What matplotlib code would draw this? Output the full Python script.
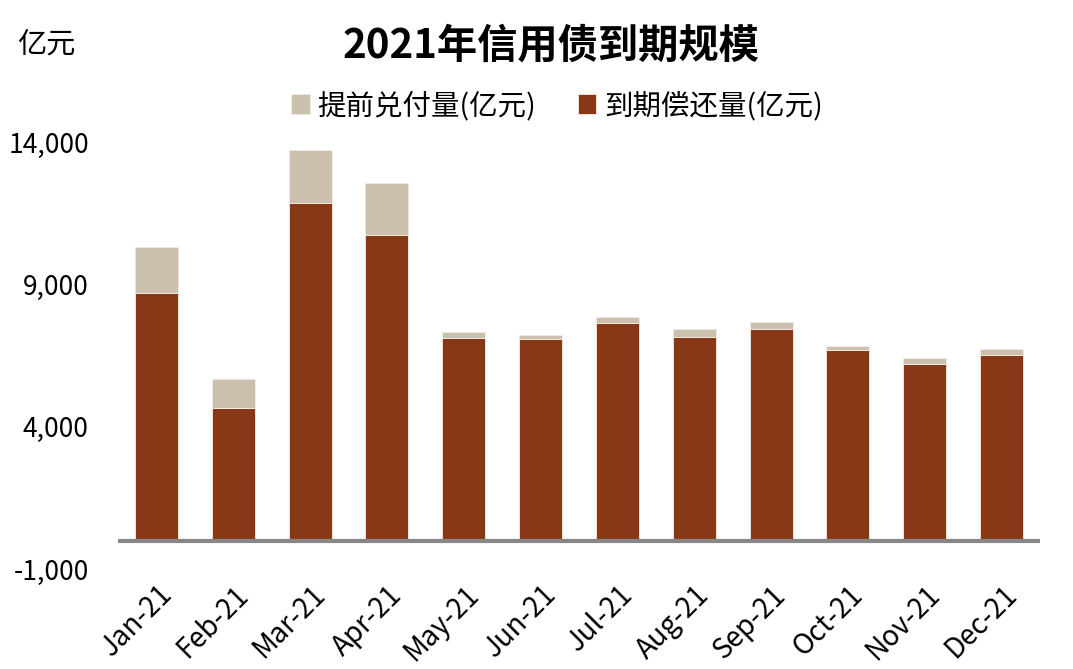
import matplotlib
matplotlib.use("Agg")
import matplotlib.pyplot as plt
import numpy as np

plt.rcParams['font.family'] = ['Noto Sans CJK SC', 'DejaVu Sans']

months = ["Jan-21", "Feb-21", "Mar-21", "Apr-21", "May-21", "Jun-21",
          "Jul-21", "Aug-21", "Sep-21", "Oct-21", "Nov-21", "Dec-21"]
maturity = [8700, 4660, 11870, 10740, 7120, 7070, 7635, 7145, 7440, 6690, 6185, 6510]
early = [1620, 1020, 1860, 1830, 210, 165, 235, 295, 220, 140, 235, 235]
yticks = [-1000, 4000, 9000, 14000]

c_mat = "#873817"
c_early = "#CBBFAE"

fig = plt.figure(figsize=(10.73, 6.69), dpi=100)
ax = fig.add_axes([118/1073, 1-569/669, (1040-118)/1073, (569-142)/669])

x = np.arange(len(months))
w = 0.56
ax.bar(x, maturity, w, color=c_mat, edgecolor="#f3ece6", linewidth=0.6,
       label="到期偿还量(亿元)", zorder=2)
ax.bar(x, early, w, bottom=maturity, color=c_early, edgecolor="#f3ece6",
       linewidth=0.6, label="提前兑付量(亿元)", zorder=2)

ax.axhline(0, color="#878787", linewidth=3, zorder=3)
ax.set_xlim(-0.5, len(months) - 0.5)
ax.set_ylim(-1000, 14000)
ax.set_yticks(yticks)
ax.set_yticklabels([f"{v:,}" for v in yticks], fontsize=19)
ax.set_xticks(x)
ax.set_xticklabels(months, fontsize=20, rotation=45, ha="right",
                   va="top", rotation_mode="anchor")
ax.tick_params(axis="y", length=0, pad=21)
ax.tick_params(axis="x", length=0, pad=8)
for s in ax.spines.values():
    s.set_visible(False)

h, l = ax.get_legend_handles_labels()
fig.legend([h[1], h[0]], [l[1], l[0]], loc="center", ncol=2,
           bbox_to_anchor=(557/1073, 1-106/669), frameon=False, fontsize=20.5,
           handlelength=0.65, handleheight=0.65, columnspacing=1.45,
           handletextpad=0.28)

fig.text(551/1073, 1-46/669, "2021年信用债到期规模", ha="center", va="center",
         fontsize=29, fontweight="bold")
fig.text(17/1073, 1-45/669, "亿元", ha="left", va="center", fontsize=21)

fig.savefig("out.png", dpi=100)
